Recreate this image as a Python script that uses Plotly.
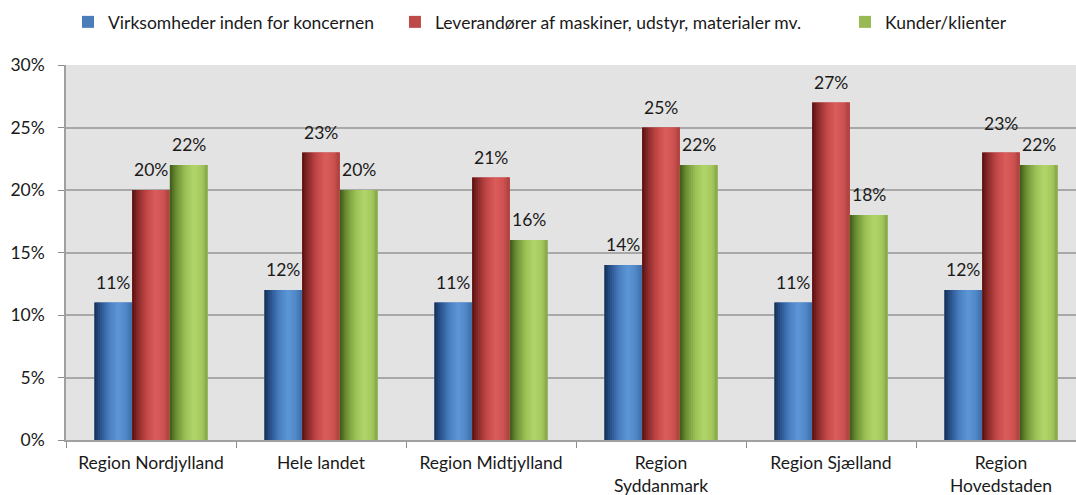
import plotly.graph_objects as go

# Categories and values (share of firms, by region)
categories = [
    "Region Nordjylland",
    "Hele landet",
    "Region Midtjylland",
    "Region<br>Syddanmark",
    "Region Sjælland",
    "Region<br>Hovedstaden",
]
series_names = [
    "Virksomheder inden for koncernen",
    "Leverandører af maskiner, udstyr, materialer mv.",
    "Kunder/klienter",
]
virksomheder = [0.11, 0.12, 0.11, 0.14, 0.11, 0.12]
leverandorer = [0.20, 0.23, 0.21, 0.25, 0.27, 0.23]
kunder = [0.22, 0.20, 0.16, 0.22, 0.18, 0.22]
y_tick_values = [0.0, 0.05, 0.10, 0.15, 0.20, 0.25, 0.30]
y_tick_labels = ["0%", "5%", "10%", "15%", "20%", "25%", "30%"]

series_values = [virksomheder, leverandorer, kunder]

# Styling: flat legend colour plus a cylinder-like shading profile per series
FONT = "Lato"
FONT_SIZE = 17.5
TEXT_COLOR = "#1a1a1a"
flat_colors = ["#4a7ebb", "#be4b48", "#98b954"]
shade_stops = [
    [(0.0, "#132c4e"), (0.15, "#28508a"), (0.40, "#4a80c2"), (0.62, "#5d96d7"),
     (0.82, "#5189c9"), (1.0, "#3d6ea8")],
    [(0.0, "#561010"), (0.15, "#8a2a2a"), (0.40, "#c64949"), (0.62, "#da5d5c"),
     (0.82, "#ce5352"), (1.0, "#ad413f")],
    [(0.0, "#3c5818"), (0.15, "#688a31"), (0.42, "#9cc256"), (0.65, "#b2d66b"),
     (0.85, "#a4c85c"), (1.0, "#86a74a")],
]
legend_ids = ["legend", "legend2", "legend3"]
legend_x = [0.0020, 0.3257, 0.7713]

BAR_W = 0.222          # bar width in category units
N_SLICES = 20          # vertical strips used for the shading
LABEL_GAP = 8          # px between bar top and its value label
LABEL_BUMP = 9         # extra lift when a neighbouring label would collide


def hex_to_rgb(h):
    h = h.lstrip("#")
    return tuple(int(h[i:i + 2], 16) for i in (0, 2, 4))


def shade(stops, t):
    for (p0, c0), (p1, c1) in zip(stops[:-1], stops[1:]):
        if p0 <= t <= p1:
            f = (t - p0) / (p1 - p0) if p1 > p0 else 0
            a, b = hex_to_rgb(c0), hex_to_rgb(c1)
            r, g, bl = (round(a[k] + (b[k] - a[k]) * f) for k in range(3))
            return f"rgb({r},{g},{bl})"
    return stops[-1][1]


def label_shift(s, c):
    """Lift a label when an adjacent bar in the group is almost as tall."""
    v = series_values[s][c]
    for n in (s - 1, s + 1):
        if 0 <= n < len(series_values):
            other = series_values[n][c]
            if 0 < v - other <= 0.0101:
                return LABEL_GAP + LABEL_BUMP
    return LABEL_GAP


fig = go.Figure()
annotations = []

for s, (name, vals) in enumerate(zip(series_names, series_values)):
    left = -1.5 * BAR_W + s * BAR_W
    # base bar: legend entry
    fig.add_trace(go.Bar(
        x=categories, y=vals, name=name, legend=legend_ids[s],
        offset=left, width=BAR_W,
        marker=dict(color=flat_colors[s], line=dict(width=0)),
        hoverinfo="skip",
    ))
    # shading strips drawn over the base bar
    step = BAR_W / N_SLICES
    for i in range(N_SLICES):
        t = (i + 0.5) / N_SLICES
        w = step + (0.003 if i < N_SLICES - 1 else 0.0)
        fig.add_trace(go.Bar(
            x=categories, y=vals, offset=left + i * step, width=w,
            marker=dict(color=shade(shade_stops[s], t), line=dict(width=0)),
            showlegend=False, hoverinfo="skip",
        ))
    # value labels above each bar
    for c, v in enumerate(vals):
        annotations.append(dict(
            x=c + left + BAR_W / 2, y=v, xref="x", yref="y",
            text=f"{round(v * 100)}%", showarrow=False,
            xanchor="center", yanchor="bottom", yshift=label_shift(s, c),
            font=dict(family=FONT, size=FONT_SIZE, color=TEXT_COLOR),
        ))

legend_style = dict(
    orientation="h", y=1.1147, xanchor="left", yanchor="middle",
    font=dict(family=FONT, size=FONT_SIZE, color=TEXT_COLOR),
    bgcolor="rgba(0,0,0,0)",
)

fig.update_layout(
    width=1076, height=495,
    margin=dict(l=66, r=0, t=65, b=55),
    barmode="overlay",
    plot_bgcolor="#e3e3e3",
    paper_bgcolor="white",
    font=dict(family=FONT, size=FONT_SIZE, color=TEXT_COLOR),
    legend=dict(x=legend_x[0], **legend_style),
    legend2=dict(x=legend_x[1], **legend_style),
    legend3=dict(x=legend_x[2], **legend_style),
    annotations=annotations,
    xaxis=dict(
        range=[-0.5, 5.4412], showgrid=False,
        ticks="outside", tickson="boundaries", ticklen=6, tickcolor="#8c8c8c",
        showline=True, linecolor="#a0a0a0", linewidth=1.5,
        ticklabelstandoff=6,
        tickfont=dict(family=FONT, size=FONT_SIZE, color=TEXT_COLOR),
    ),
    yaxis=dict(
        range=[0, 0.30], tickvals=y_tick_values, ticktext=y_tick_labels,
        showgrid=True, gridcolor="#a8a8a8", gridwidth=1.5,
        showline=True, linecolor="#a0a0a0", linewidth=1.5,
        ticks="outside", ticklen=6, tickcolor="#8c8c8c",
        ticklabelstandoff=10, zeroline=False,
        tickfont=dict(family=FONT, size=FONT_SIZE, color=TEXT_COLOR),
    ),
)

fig.write_html("out.html")
